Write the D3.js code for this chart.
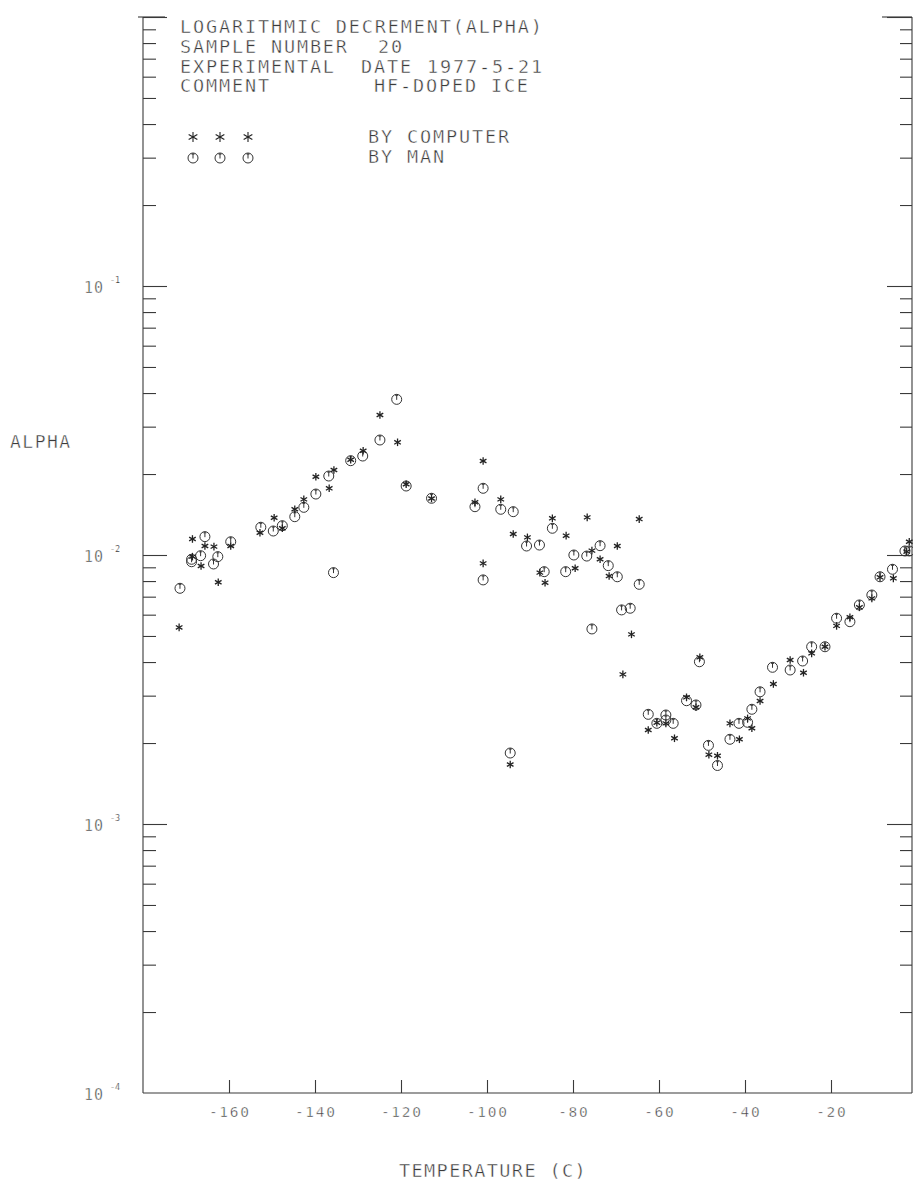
<!DOCTYPE html>
<html>
<head>
<meta charset="utf-8">
<script src="https://cdn.jsdelivr.net/npm/d3@7"></script>
<style>
  html, body { margin: 0; padding: 0; background: #fff; }
  svg { display: block; }
  text { font-family: "DejaVu Sans Mono", "Liberation Mono", monospace; fill: #3a3a3a; stroke: #fff; stroke-width: 0.45px; }
</style>
</head>
<body>
<svg id="chart" width="913" height="1183"></svg>
<script>
// ---------------- DATA ----------------
const manTemp = [-171.4,-168.7,-168.7,-166.6,-165.6,-163.6,-162.6,-159.6,-152.6,-149.7,-147.6,-144.7,-142.6,-139.8,-136.8,-135.7,-131.7,-128.9,-124.9,-121.0,-118.8,-112.9,-102.8,-100.9,-100.9,-96.8,-93.9,-94.6,-90.8,-87.8,-86.7,-84.8,-81.7,-79.8,-76.8,-75.6,-73.7,-71.8,-69.7,-68.7,-66.7,-64.6,-62.5,-60.5,-58.4,-58.4,-56.7,-53.6,-51.4,-50.6,-48.5,-46.4,-43.5,-41.4,-39.4,-38.4,-36.5,-33.6,-29.5,-26.6,-24.5,-21.4,-18.7,-15.6,-13.4,-10.5,-8.6,-5.7,-2.8,-1.8];
const manAlpha = [0.00752,0.00944,0.00964,0.00994,0.0117,0.00926,0.00986,0.0112,0.01268,0.01228,0.01285,0.01388,0.01504,0.01685,0.01966,0.0086,0.02242,0.02333,0.02676,0.0379,0.01805,0.01625,0.01512,0.0177,0.00808,0.01479,0.01449,0.001836,0.0108,0.01089,0.00867,0.01257,0.00867,0.0100,0.00991,0.00531,0.01083,0.00913,0.0083,0.00625,0.00634,0.00778,0.002557,0.002367,0.002542,0.002435,0.002367,0.002873,0.00277,0.00401,0.00196,0.00165,0.002065,0.002367,0.002388,0.00267,0.0031,0.003824,0.003737,0.004036,0.00456,0.00456,0.00582,0.00565,0.00652,0.0071,0.0083,0.00885,0.01035,0.01035];

const compTemp = [-171.6,-168.5,-168.5,-166.5,-165.6,-163.5,-162.5,-159.6,-152.8,-149.5,-147.6,-144.7,-142.6,-139.8,-136.7,-135.6,-131.7,-128.8,-124.9,-120.8,-118.8,-112.9,-102.8,-100.9,-100.9,-96.8,-93.9,-94.6,-90.6,-87.7,-86.5,-84.8,-81.6,-79.5,-76.7,-75.6,-73.7,-71.6,-69.7,-68.4,-66.4,-64.6,-62.5,-60.5,-58.4,-56.4,-53.6,-51.4,-50.5,-48.4,-46.4,-43.5,-41.3,-39.4,-38.4,-36.5,-33.4,-29.5,-26.4,-24.5,-21.4,-18.7,-15.6,-13.4,-10.5,-8.6,-5.5,-2.4,-1.8];
const compAlpha = [0.00538,0.01147,0.00986,0.0091,0.0108,0.01074,0.00792,0.0108,0.0121,0.01376,0.01257,0.01479,0.0161,0.01954,0.0177,0.0207,0.0226,0.0244,0.03315,0.02624,0.01832,0.01622,0.0157,0.02236,0.00931,0.0161,0.01197,0.001664,0.01163,0.0086,0.00789,0.01369,0.0118,0.00893,0.0138,0.01038,0.00964,0.00835,0.0108,0.0036,0.00507,0.0136,0.002236,0.00238,0.002367,0.002083,0.002958,0.002716,0.004166,0.00181,0.001793,0.002367,0.002065,0.00247,0.002269,0.002865,0.003315,0.00407,0.00365,0.00431,0.00456,0.00545,0.00587,0.00639,0.0069,0.00826,0.00819,0.01029,0.0112];

const xTickValues = [-160,-140,-120,-100,-80,-60,-40,-20];
const yMajorValues = [1e-4,1e-3,1e-2,1e-1,1];
const yLabelExponents = ["-4","-3","-2","-1"];
const titleLines = [
  [["LOGARITHMIC DECREMENT(ALPHA)", 0]],
  [["SAMPLE NUMBER", 0], ["20", 198]],
  [["EXPERIMENTAL", 0], ["DATE", 181], ["1977-5-21", 247]],
  [["COMMENT", 0], ["HF-DOPED ICE", 194]]
];
const legendLabels = ["BY COMPUTER", "BY MAN"];
const xTitle = "TEMPERATURE (C)";
const yTitle = "ALPHA";

// ---------------- LAYOUT ----------------
const svg = d3.select("#chart");
svg.append("rect").attr("width", 913).attr("height", 1183).attr("fill", "#fff");

const x = d3.scaleLinear().domain([-180, 0]).range([143, 917]);
const y = d3.scaleLog().domain([1e-4, 1]).range([1093, 17]);
const xLeft = 143, xRight = 912, yBottom = 1093, yTop = 17;
const ink = "#3a3a3a";

const yMinorValues = y.ticks().filter(v => !yMajorValues.some(m => Math.abs(m - v) / m < 1e-9));

function styleAxis(g) {
  g.select(".domain").remove();
  g.selectAll("line").attr("stroke", ink).attr("stroke-width", 1.1);
}

// frame lines
svg.append("line").attr("x1", xLeft).attr("x2", xLeft).attr("y1", yTop).attr("y2", yBottom)
  .attr("stroke", ink).attr("stroke-width", 1.1);
svg.append("line").attr("x1", xRight).attr("x2", xRight).attr("y1", yTop).attr("y2", yBottom)
  .attr("stroke", ink).attr("stroke-width", 1.1);
svg.append("line").attr("x1", xLeft).attr("x2", xRight).attr("y1", yBottom).attr("y2", yBottom)
  .attr("stroke", ink).attr("stroke-width", 1.1);

// left ticks (pointing inward)
svg.append("g").attr("transform", `translate(${xLeft},0)`)
  .call(d3.axisRight(y).tickValues(yMinorValues).tickSize(13).tickFormat(""))
  .call(styleAxis);
svg.append("g").attr("transform", `translate(${xLeft},0)`)
  .call(d3.axisRight(y).tickValues(yMajorValues.slice(1)).tickSize(24).tickFormat(""))
  .call(styleAxis);
// right ticks (pointing inward)
svg.append("g").attr("transform", `translate(${xRight},0)`)
  .call(d3.axisLeft(y).tickValues(yMinorValues).tickSize(12).tickFormat(""))
  .call(styleAxis);
svg.append("g").attr("transform", `translate(${xRight},0)`)
  .call(d3.axisLeft(y).tickValues(yMajorValues.slice(1)).tickSize(25).tickFormat(""))
  .call(styleAxis);
// top tick at 10^0
svg.append("line").attr("x1", xLeft - 5).attr("x2", xLeft + 22).attr("y1", y(1)).attr("y2", y(1))
  .attr("stroke", ink).attr("stroke-width", 1.1);
svg.append("line").attr("x1", xRight - 30).attr("x2", xRight).attr("y1", y(1)).attr("y2", y(1))
  .attr("stroke", ink).attr("stroke-width", 1.1);

// bottom ticks (pointing up)
svg.append("g").attr("transform", `translate(0,${yBottom})`)
  .call(d3.axisTop(x).tickValues(xTickValues).tickSize(13).tickFormat(""))
  .call(styleAxis);

// x tick labels
svg.append("g").selectAll("text").data(xTickValues).join("text")
  .attr("x", d => x(d) + 0.8)
  .attr("y", 1117)
  .attr("text-anchor", "middle")
  .attr("font-size", 14.5)
  .attr("letter-spacing", 1.7)
  .text(d => String(d));

// y tick labels: "10" with exponent
const yLab = svg.append("g").selectAll("g").data(yMajorValues.slice(0, 4)).join("g");
yLab.append("text")
  .attr("x", 84)
  .attr("y", d => y(d) + 6.8)
  .attr("font-size", 15)
  .attr("letter-spacing", 1)
  .text("10");
yLab.append("text")
  .attr("x", 110)
  .attr("y", d => y(d) - 3.5)
  .attr("font-size", 8.5)
  .style("stroke-width", "0.2px")
  .text((d, i) => yLabelExponents[i]);

// axis titles
svg.append("text").attr("x", 10).attr("y", 448).attr("font-size", 18).attr("letter-spacing", 1.5).text(yTitle);
svg.append("text").attr("x", 399).attr("y", 1177).attr("font-size", 18.5).attr("letter-spacing", 1.4).text(xTitle);

// title block
const titleBaselines = [33, 53, 72.5, 92];
titleLines.forEach((segs, i) => {
  segs.forEach(([txt, dx]) => {
    svg.append("text")
      .attr("x", 180 + dx)
      .attr("y", titleBaselines[i])
      .attr("font-size", 18.5)
      .attr("letter-spacing", 1.85)
      .text(txt);
  });
});

// ---------------- MARKERS ----------------
function drawStar(g, cx, cy, r, sw) {
  const pts = [[0, -r, 0, r], [-r * 0.87, -r * 0.5, r * 0.87, r * 0.5], [-r * 0.87, r * 0.5, r * 0.87, -r * 0.5]];
  pts.forEach(p => g.append("line")
    .attr("x1", cx + p[0]).attr("y1", cy + p[1]).attr("x2", cx + p[2]).attr("y2", cy + p[3])
    .attr("stroke", "#222").attr("stroke-width", sw));
}
function drawCircle(g, cx, cy, r) {
  g.append("circle").attr("cx", cx).attr("cy", cy).attr("r", r)
    .attr("fill", "none").attr("stroke", "#333").attr("stroke-width", 1);
  g.append("line").attr("x1", cx).attr("x2", cx).attr("y1", cy - r).attr("y2", cy + 0.5)
    .attr("stroke", "#333").attr("stroke-width", 1);
  g.append("line").attr("x1", cx - 1.5).attr("x2", cx + 1.5).attr("y1", cy - r + 1.2).attr("y2", cy - r + 1.2)
    .attr("stroke", "#333").attr("stroke-width", 0.8);
}

const manData = manTemp.map((t, i) => ({ t, a: manAlpha[i] }));
const compData = compTemp.map((t, i) => ({ t, a: compAlpha[i] }));

const gMan = svg.append("g").attr("class", "man");
gMan.selectAll("g").data(manData).join("g").each(function (d) {
  drawCircle(d3.select(this), x(d.t), y(d.a), 5);
});
const gComp = svg.append("g").attr("class", "computer");
gComp.selectAll("g").data(compData).join("g").each(function (d) {
  drawStar(d3.select(this), x(d.t), y(d.a), 3.8, 1.3);
});

// ---------------- LEGEND ----------------
const legend = svg.append("g");
[193, 220, 248].forEach(cx => drawStar(legend, cx, 137, 5, 1.1));
[193, 220, 248].forEach(cx => drawCircle(legend, cx, 158, 5));
legend.append("text").attr("x", 368).attr("y", 143).attr("font-size", 18.5).attr("letter-spacing", 1.85).text(legendLabels[0]);
legend.append("text").attr("x", 368).attr("y", 163).attr("font-size", 18.5).attr("letter-spacing", 1.85).text(legendLabels[1]);
</script>
</body>
</html>
